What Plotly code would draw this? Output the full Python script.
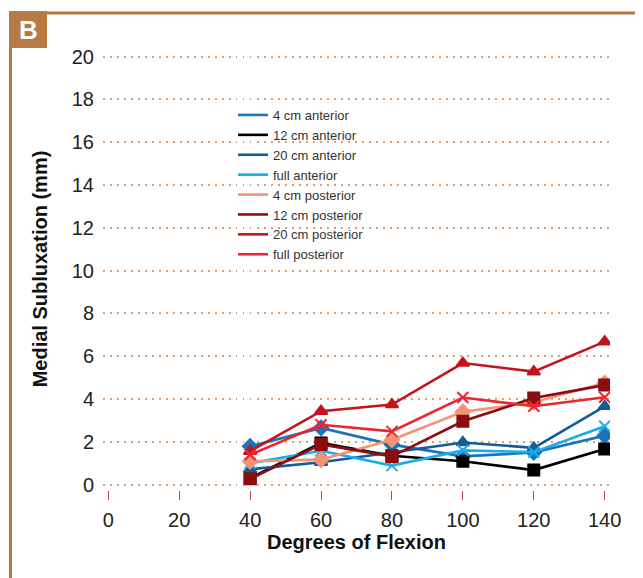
import plotly.graph_objects as go

flexion = [40, 60, 80, 100, 120, 140]
x_ticks = [0, 20, 40, 60, 80, 100, 120, 140]
y_ticks = [0, 2, 4, 6, 8, 10, 12, 14, 16, 18, 20]

ant_4cm = [1.79, 2.65, 1.87, 1.32, 1.5, 2.29]
ant_12cm = [0.31, 1.95, 1.35, 1.09, 0.68, 1.67]
ant_20cm = [0.72, 1.05, 1.5, 1.97, 1.72, 3.66]
ant_full = [1.0, 1.58, 0.89, 1.6, 1.52, 2.73]
post_4cm = [1.09, 1.17, 2.1, 3.4, 3.85, 4.75]
post_12cm = [0.27, 1.88, 1.32, 2.96, 4.05, 4.65]
post_20cm = [1.56, 3.43, 3.74, 5.68, 5.28, 6.68]
post_full = [1.4, 2.8, 2.49, 4.07, 3.66, 4.08]

series = [
    ("4 cm anterior", ant_4cm, "#1b73bb", "diamond"),
    ("12 cm anterior", ant_12cm, "#000000", "square"),
    ("20 cm anterior", ant_20cm, "#125c9c", "triangle-up"),
    ("full anterior", ant_full, "#19aee8", "x-thin-open"),
    ("4 cm posterior", post_4cm, "#f39479", "diamond"),
    ("12 cm posterior", post_12cm, "#8c0c10", "square"),
    ("20 cm posterior", post_20cm, "#c3141e", "triangle-up"),
    ("full posterior", post_full, "#ec2630", "x-thin-open"),
]

# page has an 8px body margin; figure is sized to fit the window
OFF = 8
W, H = 643 - OFF, 578 - OFF
ML, MR, MT, MB = 95, 33, 40, 88
PW, PH = W - ML - MR, H - MT - MB


def px(x):
    return (x - OFF - ML) / PW


def py(y):
    return (H - MB - (y - OFF)) / PH


fig = go.Figure()
for name, vals, color, sym in series:
    fig.add_trace(go.Scatter(
        x=flexion, y=vals, name=name, mode="lines",
        line=dict(color=color, width=2.6), legendgroup=name,
    ))
    fig.add_trace(go.Scatter(
        x=flexion, y=vals, name=name, mode="markers", showlegend=False,
        legendgroup=name,
        marker=dict(symbol=sym, size=11, color=color,
                    line=dict(color=color, width=2)),
    ))

brown = "#b87a45"
fig.add_shape(type="line", xref="paper", yref="paper",
              x0=px(10.5), x1=px(10.5), y0=py(12), y1=py(580),
              line=dict(color=brown, width=3))
fig.add_shape(type="line", xref="paper", yref="paper",
              x0=px(45), x1=px(645), y0=py(13), y1=py(13),
              line=dict(color=brown, width=3))
fig.add_shape(type="rect", xref="paper", yref="paper",
              x0=px(9), x1=px(47), y0=py(48), y1=py(11),
              line=dict(width=0), fillcolor=brown)
fig.add_annotation(xref="paper", yref="paper", x=px(28), y=py(30),
                   xanchor="center", yanchor="middle",
                   text="<b>B</b>", showarrow=False,
                   font=dict(family="Liberation Sans, Arial", size=26, color="white"))

fig.update_layout(
    width=W, height=H,
    margin=dict(l=ML, r=MR, t=MT, b=MB, autoexpand=False),
    paper_bgcolor="white", plot_bgcolor="white",
    font=dict(family="Liberation Sans, Arial, sans-serif", color="#222"),
    showlegend=True,
    legend=dict(x=px(233), y=py(100), xanchor="left", yanchor="top",
                bgcolor="rgba(0,0,0,0)", itemwidth=30,
                font=dict(size=13, color="#333"), tracegroupgap=0),
    xaxis=dict(range=[-1.5, 141.5], tickvals=x_ticks, showgrid=False,
               zeroline=False, showline=False, ticks="outside", ticklen=9,
               tickcolor="#b8455e", tickwidth=1.2, automargin=False,
               ticklabelstandoff=3,
               tickfont=dict(size=20, color="#222"),
               title=dict(text="<b>Degrees of Flexion</b>", font=dict(size=20, color="#111"),
                          standoff=4)),
    yaxis=dict(range=[-0.25, 20.4], tickvals=y_ticks, showgrid=True,
               gridcolor="#d9a070", griddash="1.5px,5.5px", gridwidth=1.8,
               zeroline=False, showline=False, ticks="", automargin=False,
               ticklabelstandoff=8,
               tickfont=dict(size=20, color="#222"),
               title=dict(text="<b>Medial Subluxation (mm)</b>", font=dict(size=20, color="#111"),
                          standoff=18)),
)

fig.write_html("out.html")
